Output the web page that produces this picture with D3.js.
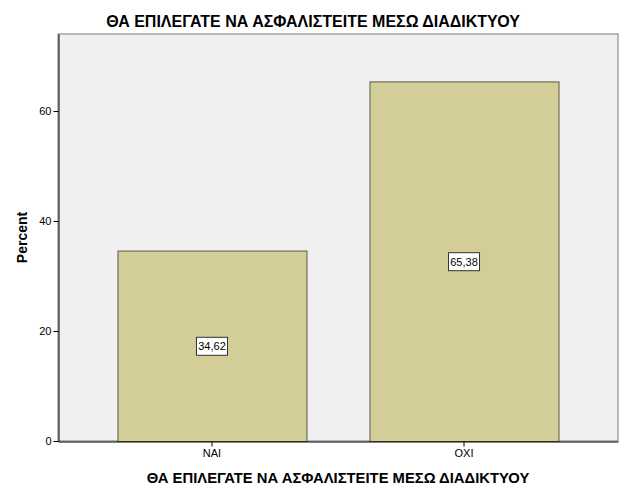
<!DOCTYPE html>
<html>
<head>
<meta charset="utf-8">
<script src="https://cdn.jsdelivr.net/npm/d3@7"></script>
<style>
  body { margin: 0; background: #fff; }
  svg text { font-family: Arial, "Liberation Sans", sans-serif; }
</style>
</head>
<body>
<div id="chart"></div>
<script>
// chart data
const categories = ["ΝΑΙ", "ΟΧΙ"];
const percents = [34.62, 65.38];
const yTicks = [0, 20, 40, 60];
const chartTitle = "ΘΑ ΕΠΙΛΕΓΑΤΕ ΝΑ ΑΣΦΑΛΙΣΤΕΙΤΕ ΜΕΣΩ ΔΙΑΔΙΚΤΥΟΥ";
const xTitle = "ΘΑ ΕΠΙΛΕΓΑΤΕ ΝΑ ΑΣΦΑΛΙΣΤΕΙΤΕ ΜΕΣΩ ΔΙΑΔΙΚΤΥΟΥ";
const yTitle = "Percent";

const width = 626, height = 501;
const margin = {top: 34, right: 8, bottom: 60, left: 58};

const svg = d3.select("#chart")
    .append("svg")
    .attr("width", width)
    .attr("height", height);

const x = d3.scaleBand()
    .domain(categories)
    .range([margin.left, width - margin.right])
    .paddingInner(0.25)
    .paddingOuter(0.236);

const y = d3.scaleLinear()
    .domain([0, 74])
    .range([height - margin.bottom, margin.top]);

// plot background
svg.append("rect")
    .attr("x", margin.left)
    .attr("y", margin.top)
    .attr("width", width - margin.right - margin.left)
    .attr("height", height - margin.bottom - margin.top)
    .attr("fill", "#f0f0f0")
    .attr("stroke", "#7a7a7a")
    .attr("stroke-width", 1);

// bars
svg.append("g")
    .selectAll("rect")
    .data(percents)
    .enter().append("rect")
    .attr("x", (d, i) => x(categories[i]) + 0.5)
    .attr("y", d => y(d) + 0.5)
    .attr("width", x.bandwidth())
    .attr("height", d => y(0) - y(d))
    .attr("fill", "#d3ce97")
    .attr("stroke", "#5a5a4a")
    .attr("stroke-width", 1);

// value labels in the middle of each bar
const labels = svg.append("g")
    .selectAll("g")
    .data(percents)
    .enter().append("g")
    .attr("transform", (d, i) => `translate(${x(categories[i]) + x.bandwidth() / 2},${y(d / 2)})`);

labels.append("rect")
    .attr("x", -15.5)
    .attr("y", -8.5)
    .attr("width", 31)
    .attr("height", 18)
    .attr("fill", "#fff")
    .attr("stroke", "#333")
    .attr("stroke-width", 1);

labels.append("text")
    .attr("text-anchor", "middle")
    .attr("dy", "0.35em")
    .attr("y", 0.5)
    .attr("font-size", 11)
    .attr("fill", "#000")
    .text(d => d.toFixed(2).replace(".", ","));

// y axis
const yAxis = svg.append("g")
    .attr("transform", `translate(${margin.left + 0.5},0)`)
    .call(d3.axisLeft(y).tickValues(yTicks).tickSize(5).tickSizeOuter(0).tickPadding(2));
yAxis.select(".domain").attr("stroke", "#000");
yAxis.selectAll("text").attr("font-size", 11).attr("font-family", "Arial, 'Liberation Sans', sans-serif").attr("fill", "#000");

// x axis
const xAxis = svg.append("g")
    .attr("transform", `translate(0,${height - margin.bottom + 0.5})`)
    .call(d3.axisBottom(x).tickSize(5).tickPadding(3).tickSizeOuter(0));
xAxis.select(".domain").attr("stroke", "#000");
xAxis.selectAll("text").attr("font-size", 11).attr("font-family", "Arial, 'Liberation Sans', sans-serif").attr("fill", "#000");

// titles
svg.append("text")
    .attr("x", 313)
    .attr("y", 27)
    .attr("text-anchor", "middle")
    .attr("font-size", 16)
    .attr("font-weight", "bold")
    .text(chartTitle);

svg.append("text")
    .attr("x", (margin.left + width - margin.right) / 2)
    .attr("y", 483)
    .attr("text-anchor", "middle")
    .attr("font-size", 14.8)
    .attr("font-weight", "bold")
    .text(xTitle);

svg.append("text")
    .attr("transform", `translate(27,${(margin.top + height - margin.bottom) / 2}) rotate(-90)`)
    .attr("text-anchor", "middle")
    .attr("font-size", 14)
    .attr("font-weight", "bold")
    .text(yTitle);
</script>
</body>
</html>
